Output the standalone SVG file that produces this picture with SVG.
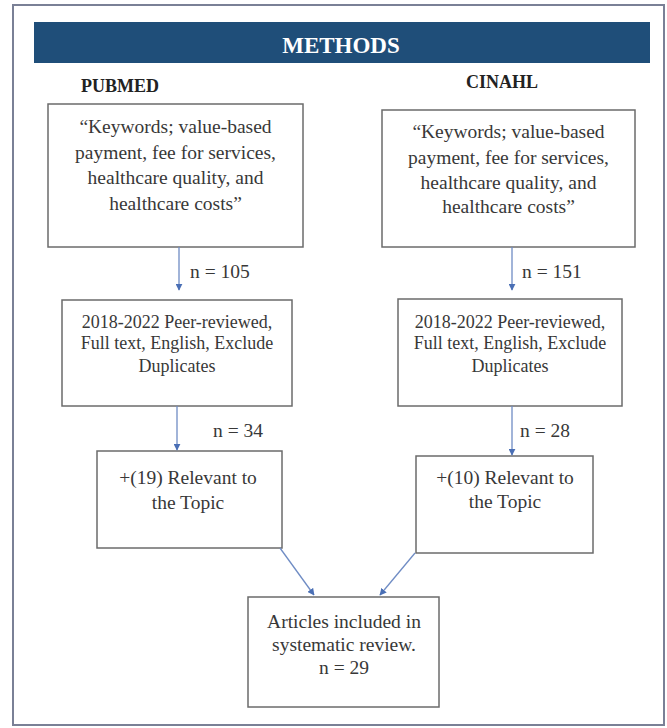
<svg xmlns="http://www.w3.org/2000/svg" width="667" height="728" viewBox="0 0 667 728">
  <defs>
    <marker id="arr" viewBox="0 0 10 10" refX="9" refY="5" markerWidth="7" markerHeight="7" orient="auto" markerUnits="userSpaceOnUse">
      <path d="M0,0 L10,5 L0,10 z" fill="#4a6fb5"/>
    </marker>
    <style>
      .box { fill: #ffffff; stroke: #6b6b6b; stroke-width: 1.5; }
      .t { font-family: "Liberation Serif", "Times New Roman", serif; font-size: 19.5px; fill: #383838; text-anchor: middle; }
      .t2 { font-family: "Liberation Serif", "Times New Roman", serif; font-size: 18px; fill: #383838; text-anchor: middle; }
      .lbl { font-family: "Liberation Serif", "Times New Roman", serif; font-size: 19.5px; fill: #383838; }
      .hd { font-family: "Liberation Serif", "Times New Roman", serif; font-size: 18px; font-weight: bold; fill: #222222; text-anchor: middle; }
      .con { stroke: #6f8cc4; stroke-width: 1.3; fill: none; marker-end: url(#arr); }
    </style>
  </defs>
  <rect x="0" y="0" width="667" height="728" fill="#ffffff"/>
  <rect x="13" y="5" width="651" height="720" fill="none" stroke="#7a8096" stroke-width="2"/>

  <g id="banner">
    <rect x="34" y="22" width="616" height="41" fill="#1f4e79"/>
    <text x="341" y="53" font-family="Liberation Serif, Times New Roman, serif" font-size="23" font-weight="bold" fill="#ffffff" text-anchor="middle">METHODS</text>
  </g>

  <g id="pubmed-label"><text class="hd" x="120" y="92">PUBMED</text></g>
  <g id="cinahl-label"><text class="hd" x="502" y="88">CINAHL</text></g>

  <g id="pubmed-keywords">
    <rect class="box" x="48" y="104" width="255" height="143"/>
    <text class="t" x="175.5" y="133">“Keywords; value-based</text>
    <text class="t" x="175.5" y="159">payment, fee for services,</text>
    <text class="t" x="175.5" y="184">healthcare quality, and</text>
    <text class="t" x="175.5" y="210">healthcare costs”</text>
  </g>
  <g id="cinahl-keywords">
    <rect class="box" x="382" y="110" width="253" height="137"/>
    <text class="t" x="508.5" y="138">“Keywords; value-based</text>
    <text class="t" x="508.5" y="164">payment, fee for services,</text>
    <text class="t" x="508.5" y="189">healthcare quality, and</text>
    <text class="t" x="508.5" y="213">healthcare costs”</text>
  </g>

  <g id="pubmed-filter">
    <rect class="box" x="62" y="300" width="230" height="106"/>
    <text class="t2" x="177" y="328">2018-2022 Peer-reviewed,</text>
    <text class="t2" x="177" y="349">Full text, English, Exclude</text>
    <text class="t2" x="177" y="372">Duplicates</text>
  </g>
  <g id="cinahl-filter">
    <rect class="box" x="398" y="299" width="224" height="107"/>
    <text class="t2" x="510" y="328">2018-2022 Peer-reviewed,</text>
    <text class="t2" x="510" y="349">Full text, English, Exclude</text>
    <text class="t2" x="510" y="372">Duplicates</text>
  </g>

  <g id="pubmed-relevant">
    <rect class="box" x="97" y="451" width="185" height="97"/>
    <text class="t" x="188" y="484">+(19) Relevant to</text>
    <text class="t" x="188" y="509">the Topic</text>
  </g>
  <g id="cinahl-relevant">
    <rect class="box" x="416" y="456" width="177" height="97"/>
    <text class="t" x="505" y="484">+(10) Relevant to</text>
    <text class="t" x="505" y="508">the Topic</text>
  </g>

  <g id="included">
    <rect class="box" x="248" y="597" width="191" height="110"/>
    <text class="t" x="344" y="628">Articles included in</text>
    <text class="t" x="344" y="651">systematic review.</text>
    <text class="t" x="344" y="674">n = 29</text>
  </g>

  <g id="connectors">
    <line class="con" x1="179" y1="247" x2="179" y2="290"/>
    <line class="con" x1="512" y1="247" x2="512" y2="290"/>
    <line class="con" x1="177" y1="406" x2="177" y2="450"/>
    <line class="con" x1="512" y1="406" x2="512" y2="455"/>
    <line class="con" x1="280" y1="548" x2="314" y2="595"/>
    <line class="con" x1="415" y1="553" x2="380" y2="595"/>
    <text class="lbl" x="190" y="278">n = 105</text>
    <text class="lbl" x="522" y="278">n = 151</text>
    <text class="lbl" x="213" y="437">n = 34</text>
    <text class="lbl" x="520" y="437">n = 28</text>
  </g>
</svg>
